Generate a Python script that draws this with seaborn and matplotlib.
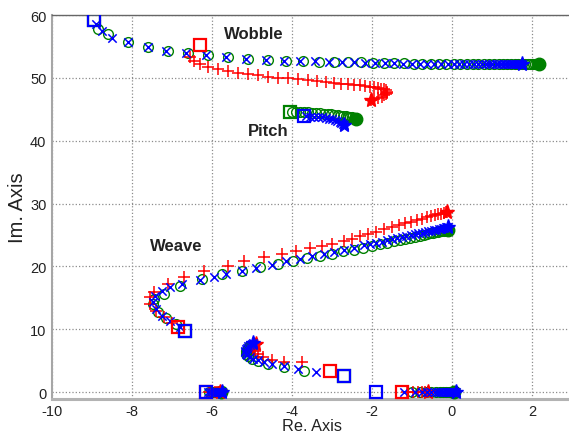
"""
Root locus of the eigenvalues (wobble, weave, pitch) for three models.
"""
import numpy as np
import matplotlib
matplotlib.use("Agg")
import matplotlib.pyplot as plt
import seaborn as sns

sns.set_style("whitegrid", {"grid.linestyle": ":", "grid.color": "0.55",
                            "axes.edgecolor": "0.6"})
plt.rcParams["font.family"] = ["Liberation Sans", "DejaVu Sans"]
plt.rcParams["axes.unicode_minus"] = False

RED = "#ff0000"
GREEN = "#008000"
BLUE = "#0000ff"

# ---- wobble ----
wob_b_re = [-8.9, -8.75, -8.5, -8.1, -7.6, -7.15, -6.65, -6.15, -5.65, -5.15,
            -4.65, -4.2, -3.8, -3.42, -3.08, -2.76, -2.46, -2.18, -1.92, -1.67,
            -1.44, -1.22, -1.01, -0.81, -0.62, -0.44, -0.27, -0.11, 0.04, 0.18,
            0.31, 0.43, 0.54, 0.65, 0.75, 0.84, 0.93, 1.01, 1.09, 1.16,
            1.23, 1.29, 1.35, 1.41, 1.46, 1.51, 1.56, 1.6, 1.64, 1.68,
            1.72, 1.75]
wob_b_im = [58.6, 57.4, 56.4, 55.7, 54.9, 54.3, 53.9, 53.6, 53.3, 53.0,
            52.8, 52.75, 52.7, 52.65, 52.6, 52.5, 52.45, 52.4, 52.35, 52.3,
            52.3, 52.25, 52.25, 52.2, 52.2, 52.2, 52.2, 52.2, 52.2, 52.2,
            52.2, 52.2, 52.2, 52.2, 52.2, 52.2, 52.2, 52.2, 52.2, 52.2,
            52.2, 52.2, 52.2, 52.2, 52.2, 52.2, 52.2, 52.2, 52.2, 52.2,
            52.2, 52.2]
wob_g_re = [-8.85, -8.6, -8.1, -7.6, -7.1, -6.6, -6.1, -5.6, -5.1, -4.6,
            -4.15, -3.72, -3.32, -2.95, -2.6, -2.28, -1.98, -1.7, -1.44, -1.19,
            -0.96, -0.74, -0.53, -0.33, -0.14, 0.04, 0.21, 0.37, 0.52, 0.66,
            0.8, 0.93, 1.05, 1.17, 1.28, 1.38, 1.48, 1.57, 1.66, 1.74,
            1.82, 1.89, 1.96, 2.02, 2.08, 2.13, 2.18]
wob_g_im = [57.8, 56.9, 55.7, 54.9, 54.3, 53.9, 53.6, 53.3, 53.0, 52.8,
            52.75, 52.7, 52.6, 52.55, 52.5, 52.45, 52.4, 52.35, 52.3, 52.3,
            52.25, 52.25, 52.2, 52.2, 52.2, 52.2, 52.2, 52.2, 52.2, 52.2,
            52.2, 52.2, 52.2, 52.2, 52.2, 52.2, 52.2, 52.2, 52.2, 52.2,
            52.2, 52.2, 52.2, 52.2, 52.2, 52.2, 52.2]
wob_r_re = [-6.55, -6.45, -6.3, -6.1, -5.85, -5.6, -5.35, -5.1, -4.85, -4.6,
            -4.35, -4.1, -3.85, -3.6, -3.37, -3.15, -2.95, -2.77, -2.6, -2.45,
            -2.31, -2.18, -2.06, -1.95, -1.86, -1.78, -1.71, -1.66, -1.63, -1.62,
            -1.64, -1.69, -1.76, -1.85, -1.95, -2.02]
wob_r_im = [53.3, 52.7, 52.2, 51.8, 51.4, 51.1, 50.8, 50.6, 50.4, 50.2,
            50.05, 49.9, 49.8, 49.65, 49.5, 49.35, 49.2, 49.1, 49.0, 48.9,
            48.8, 48.7, 48.6, 48.5, 48.4, 48.3, 48.15, 48.0, 47.8, 47.6,
            47.4, 47.2, 47.0, 46.8, 46.65, 46.5]

# ---- pitch ----
pit_g_re = [-4.0, -3.9, -3.8, -3.7, -3.6, -3.5, -3.4, -3.3, -3.2, -3.11,
            -3.02, -2.94, -2.86, -2.79, -2.72, -2.66, -2.6, -2.55, -2.5, -2.46,
            -2.43, -2.41, -2.4]
pit_g_im = [44.6, 44.6, 44.55, 44.5, 44.5, 44.45, 44.4, 44.35, 44.3, 44.25,
            44.2, 44.15, 44.1, 44.0, 43.95, 43.9, 43.8, 43.75, 43.7, 43.6,
            43.55, 43.5, 43.45]
pit_b_re = [-3.65, -3.55, -3.45, -3.35, -3.25, -3.16, -3.08, -3.0, -2.93, -2.87,
            -2.81, -2.77, -2.73, -2.7]
pit_b_im = [43.9, 43.85, 43.8, 43.75, 43.7, 43.6, 43.5, 43.4, 43.3, 43.2,
            43.05, 42.9, 42.7, 42.5]

# ---- weave ----
wea_b_re = [-6.8, -7.05, -7.25, -7.4, -7.47, -7.42, -7.25, -7.05, -6.75, -6.3,
            -5.95, -5.65, -5.25, -4.9, -4.5, -4.15, -3.8, -3.5, -3.2, -2.95,
            -2.7, -2.45, -2.2, -2.05, -1.9, -1.76, -1.62, -1.49, -1.37, -1.25,
            -1.14, -1.03, -0.93, -0.84, -0.75, -0.67, -0.59, -0.52, -0.45, -0.39,
            -0.33, -0.28, -0.23, -0.19, -0.15, -0.12, -0.1]
wea_b_im = [10.4, 11.3, 12.1, 13.2, 14.3, 15.3, 16.1, 16.7, 17.2, 17.8,
            18.4, 18.8, 19.3, 19.8, 20.3, 20.8, 21.2, 21.6, 22.0, 22.35,
            22.7, 23.0, 23.35, 23.56, 23.77, 23.97, 24.16, 24.34, 24.51, 24.68,
            24.83, 24.99, 25.13, 25.25, 25.38, 25.49, 25.6, 25.7, 25.8, 25.88,
            25.97, 26.04, 26.11, 26.16, 26.22, 26.26, 26.29]
wea_g_re = [-6.9, -7.15, -7.35, -7.47, -7.45, -7.2, -6.8, -6.25, -5.75, -5.25,
            -4.8, -4.35, -3.97, -3.62, -3.3, -3.0, -2.72, -2.46, -2.22, -2.0,
            -1.8, -1.62, -1.46, -1.31, -1.17, -1.04, -0.92, -0.81, -0.71, -0.62,
            -0.54, -0.47, -0.4, -0.34, -0.29, -0.24, -0.2, -0.16, -0.13, -0.1]
wea_g_im = [10.8, 11.8, 12.8, 14.0, 14.8, 15.6, 16.9, 18.0, 18.8, 19.3,
            19.9, 20.4, 20.9, 21.3, 21.7, 22.05, 22.4, 22.7, 23.0, 23.3,
            23.55, 23.8, 24.0, 24.2, 24.4, 24.57, 24.73, 24.88, 25.02, 25.14,
            25.25, 25.35, 25.45, 25.53, 25.6, 25.67, 25.72, 25.77, 25.81, 25.85]
wea_r_re = [-7.0, -7.2, -7.4, -7.55, -7.55, -7.45, -7.1, -6.7, -6.2, -5.6,
            -5.2, -4.7, -4.25, -3.9, -3.55, -3.25, -3.0, -2.7, -2.5, -2.3,
            -2.1, -1.9, -1.7, -1.5, -1.33, -1.17, -1.02, -0.88, -0.75, -0.63,
            -0.52, -0.42, -0.34, -0.27, -0.21, -0.16, -0.12]
wea_r_im = [11.0, 11.9, 12.9, 14.0, 15.2, 15.9, 17.2, 18.3, 19.3, 20.1,
            20.9, 21.5, 22.0, 22.5, 22.9, 23.3, 23.6, 24.0, 24.4, 24.8,
            25.2, 25.55, 25.9, 26.25, 26.55, 26.85, 27.1, 27.35, 27.6, 27.8,
            28.0, 28.15, 28.3, 28.42, 28.52, 28.6, 28.67]

# ---- low complex pair near -5 ----
low_b_re = [-3.4, -3.85, -4.2, -4.5, -4.7, -4.85, -4.97, -5.06, -5.12, -5.16,
            -5.18, -5.18, -5.16, -5.13, -5.09, -5.05, -5.01, -4.97]
low_b_im = [3.2, 3.75, 4.2, 4.55, 4.85, 5.1, 5.35, 5.6, 5.85, 6.1,
            6.35, 6.6, 6.85, 7.1, 7.3, 7.5, 7.65, 7.8]
low_g_re = [-3.7, -4.2, -4.6, -4.85, -5.0, -5.1, -5.15, -5.15, -5.1, -5.05]
low_g_im = [3.4, 4.0, 4.5, 4.9, 5.3, 5.7, 6.1, 6.5, 6.9, 7.2]
low_r_re = [-3.75, -4.2, -4.5, -4.72, -4.85, -4.93, -4.97, -4.9]
low_r_im = [4.8, 4.85, 5.05, 5.6, 6.1, 6.6, 7.1, 7.6]

# ---- real axis ----
rl_b_re = [-6.1, -6.04, -5.99, -5.94, -5.9, -5.86, -5.83, -5.8, -5.78, -5.76, -5.74]
rl_b_im = [0.0, 0.0, 0.0, 0.0, 0.0, 0.0, 0.0, 0.0, 0.0, 0.0, 0.0]
rl_g_re = [-6.08, -6.0, -5.93, -5.88, -5.84, -5.8, -5.77]
rl_g_im = [0.0, 0.0, 0.0, 0.0, 0.0, 0.0, 0.0]
rl_r_re = [-6.08, -6.0, -5.93, -5.87, -5.83, -5.8]
rl_r_im = [0.0, 0.0, 0.0, 0.0, 0.0, 0.0]
rr_b_re = [-1.2, -0.92, -0.75, -0.62, -0.52, -0.43, -0.36, -0.3, -0.24, -0.19,
           -0.15, -0.11, -0.08, -0.05, -0.02, 0.01, 0.04, 0.06, 0.08, 0.1]
rr_b_im = [0.0, 0.0, 0.0, 0.0, 0.0, 0.0, 0.0, 0.0, 0.0, 0.0,
           0.0, 0.0, 0.0, 0.0, 0.0, 0.0, 0.0, 0.0, 0.0, 0.0]
rr_g_re = [-1.0, -0.8, -0.65, -0.52, -0.41, -0.31, -0.22, -0.14, -0.07, 0.0, 0.06]
rr_g_im = [0.0, 0.0, 0.0, 0.0, 0.0, 0.0, 0.0, 0.0, 0.0, 0.0, 0.0]
rr_r_re = [-1.12, -0.98, -0.86, -0.76, -0.67, -0.6]
rr_r_im = [0.0, 0.0, 0.0, 0.0, 0.0, 0.0]

# start points (squares)
sq_r_re = [-6.3, -6.85, -3.05, -6.15, -1.25]
sq_r_im = [55.3, 10.3, 3.3, 0.0, 0.0]
sq_g_re = [-4.05, -8.95, -6.68, -2.7]
sq_g_im = [44.6, 59.2, 9.7, 2.5]
sq_b_re = [-8.95, -3.7, -6.68, -2.7, -6.15, -1.9]
sq_b_im = [59.2, 44.0, 9.7, 2.5, 0.0, 0.0]

mode_labels = ["Wobble", "Pitch", "Weave"]
label_re = [-4.95, -4.6, -6.9]
label_im = [57.0, 41.7, 23.3]

green_branches = [(wob_g_re, wob_g_im), (pit_g_re, pit_g_im), (wea_g_re, wea_g_im),
                  (low_g_re, low_g_im), (rl_g_re, rl_g_im), (rr_g_re, rr_g_im)]
red_branches = [(wob_r_re, wob_r_im), (wea_r_re, wea_r_im), (low_r_re, low_r_im),
                (rl_r_re, rl_r_im), (rr_r_re, rr_r_im)]
blue_branches = [(wob_b_re, wob_b_im), (pit_b_re, pit_b_im), (wea_b_re, wea_b_im),
                 (low_b_re, low_b_im), (rl_b_re, rl_b_im), (rr_b_re, rr_b_im)]

fig = plt.figure(figsize=(5.69, 4.35), dpi=100)
ax = fig.add_axes([52 / 569, 35.5 / 435, 520 / 569, 383.5 / 435])

for re_, im_ in green_branches:
    ax.plot(re_, im_, ls="none", marker="o", ms=7, mfc="none", mec=GREEN,
            mew=1.0, zorder=3)
    ax.plot(re_[-1], im_[-1], ls="none", marker="o", ms=9, color=GREEN, zorder=3)

for re_, im_ in red_branches:
    sns.scatterplot(x=re_, y=im_, marker="+", color=RED, s=70, linewidth=1.1,
                    ax=ax, zorder=4)
    ax.plot(re_[-1], im_[-1], ls="none", marker="*", ms=11, color=RED, zorder=4)

for re_, im_ in blue_branches:
    sns.scatterplot(x=re_, y=im_, marker="x", color=BLUE, s=36, linewidth=1.1,
                    ax=ax, zorder=5)
    ax.plot(re_[-1], im_[-1], ls="none", marker="*", ms=11, color=BLUE, zorder=5)

ax.plot(sq_g_re, sq_g_im, ls="none", marker="s", ms=9, mfc="none", mec=GREEN,
        mew=1.6, zorder=6)
ax.plot(sq_r_re, sq_r_im, ls="none", marker="s", ms=9, mfc="none", mec=RED,
        mew=1.6, zorder=6)
ax.plot(sq_b_re, sq_b_im, ls="none", marker="s", ms=9, mfc="none", mec=BLUE,
        mew=1.6, zorder=7)

for txt, xr, yi in zip(mode_labels, label_re, label_im):
    ax.text(xr, yi, txt, fontsize=12, fontweight="bold", ha="center",
            va="center", color="#222222", zorder=8)

ax.set_xlim(-10, 3)
ax.set_ylim(-1, 60)
ax.set_xticks(np.arange(-10, 3, 2))
ax.set_yticks(np.arange(0, 61, 10))
ax.tick_params(labelsize=10.5, length=0, pad=4, colors="#222222")
ax.set_xlabel("Re. Axis", fontsize=11.7, labelpad=0, color="#222222")
ax.set_ylabel("Im. Axis", fontsize=14.5, labelpad=2, color="#222222")
ax.grid(True, linestyle=":", color="0.55", linewidth=0.9)

ax.spines["top"].set_color("0.4")
ax.spines["top"].set_linewidth(1.0)
ax.spines["left"].set_color("0.65")
ax.spines["left"].set_linewidth(1.5)
ax.spines["bottom"].set_color("0.7")
ax.spines["bottom"].set_linewidth(2.2)
ax.spines["right"].set_visible(False)

fig.savefig("out.png", dpi=100)
